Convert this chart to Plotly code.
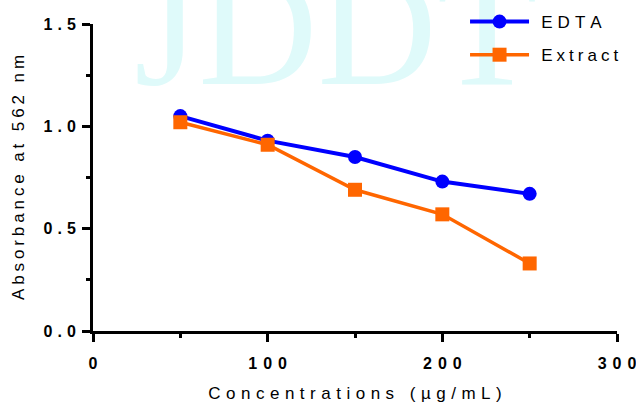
import plotly.graph_objects as go

# ---- data ----
concentrations = [50, 100, 150, 200, 250]
edta = [1.05, 0.93, 0.85, 0.73, 0.67]
extract = [1.02, 0.91, 0.69, 0.57, 0.33]

x_ticks = [0, 100, 200, 300]
y_ticks = [0.0, 0.5, 1.0, 1.5]
y_tick_labels = ["0.0", "0.5", "1.0", "1.5"]
x_tick_labels = ["0", "100", "200", "300"]

x_title = "Concentrations (µg/mL)"
y_title = "Absorbance at 562 nm"
series_names = ["EDTA", "Extract"]
watermark = "JDDT"


def spaced(s, px):
    """letter-spaced text (no trailing space after last char)"""
    if len(s) <= 1:
        return s
    return f'<span style="letter-spacing:{px}px">{s[:-1]}</span>{s[-1]}'


LEAD = '<span style="letter-spacing:2.5px">\u00a0</span>'

BLUE = "#0000FF"
ORANGE = "#FF6600"

fig = go.Figure()

# watermark (decoration, behind data)
fig.add_trace(go.Scatter(
    x=[139.0], y=[1.41], mode="text", text=[watermark],
    textposition="middle center",
    textfont=dict(family="Liberation Serif", size=165, color="#DFFAFA"),
    cliponaxis=False, showlegend=False, hoverinfo="skip",
))

fig.add_trace(go.Scatter(
    x=concentrations, y=edta, mode="lines+markers",
    name=LEAD + spaced(series_names[0], 5), legendgroup="a",
    line=dict(color=BLUE, width=4),
    marker=dict(symbol="circle", size=14, color=BLUE),
    cliponaxis=False,
))
fig.add_trace(go.Scatter(
    x=concentrations, y=extract, mode="lines+markers",
    name=LEAD + spaced(series_names[1], 4), legendgroup="b",
    line=dict(color=ORANGE, width=3.5),
    marker=dict(symbol="square", size=14, color=ORANGE),
    cliponaxis=False,
))

axis_common = dict(
    showline=True, linecolor="black", linewidth=3,
    ticks="outside", ticklen=8, tickwidth=3, tickcolor="black",
    showgrid=False, zeroline=False, automargin=False,
    tickfont=dict(family="Liberation Sans", size=16, color="black", weight="bold"),
)

fig.update_xaxes(
    range=[0, 300], tickmode="array", tickvals=x_ticks,
    ticktext=[spaced(t, 6) for t in x_tick_labels],
    minor=dict(dtick=50, ticklen=4, tickwidth=3, tickcolor="black", ticks="outside"),
    ticklabelstandoff=8, ticklabeloverflow="allow",
    title=dict(text=spaced(x_title, 5.5), standoff=16,
               font=dict(family="Liberation Sans", size=17, color="black")),
    **axis_common,
)
fig.update_yaxes(
    range=[0, 1.5], tickmode="array", tickvals=y_ticks,
    ticktext=[spaced(t, 5) for t in y_tick_labels],
    minor=dict(dtick=0.25, ticklen=4, tickwidth=3, tickcolor="black", ticks="outside"),
    ticklabelstandoff=3,
    title=dict(text=spaced(y_title, 3.9), standoff=15,
               font=dict(family="Liberation Sans", size=17, color="black")),
    **axis_common,
)

fig.update_layout(
    width=636, height=405,
    margin=dict(l=93, r=19, t=24, b=74, autoexpand=False),
    paper_bgcolor="white", plot_bgcolor="white",
    showlegend=True, hovermode=False,
    legend=dict(
        x=0.710, y=1.065, xanchor="left", yanchor="top",
        bgcolor="rgba(0,0,0,0)", borderwidth=0,
        font=dict(family="Liberation Sans", size=17, color="black"),
        itemwidth=59, tracegroupgap=8,
    ),
)

fig.write_html("out.html", config={"displayModeBar": False},
               post_script="document.body.style.margin='0';")
